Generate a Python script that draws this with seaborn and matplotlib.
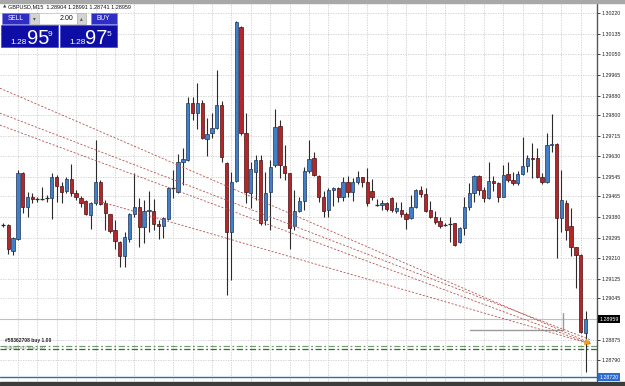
import seaborn as sns
import matplotlib.pyplot as plt
from matplotlib.patches import Rectangle
from matplotlib.transforms import blended_transform_factory

# GBPUSD M15 candles, oldest first
opens = [1.29347, 1.29347, 1.29241, 1.29288, 1.29560, 1.29422, 1.29463, 1.29455, 1.29457, 1.29456,
         1.29457, 1.29546, 1.29508, 1.29488, 1.29535, 1.29477, 1.29457, 1.29446, 1.29388, 1.29439,
         1.29525, 1.29436, 1.29392, 1.29326, 1.29278, 1.29219, 1.29288, 1.29392, 1.29422, 1.29337,
         1.29403, 1.29404, 1.29351, 1.29345, 1.29370, 1.29500, 1.29484, 1.29608, 1.29615, 1.29851,
         1.29810, 1.29851, 1.29700, 1.29725, 1.29748, 1.29841, 1.29601, 1.29319, 1.29529, 1.30164,
         1.29727, 1.29480, 1.29566, 1.29615, 1.29367, 1.29484, 1.29594, 1.29755, 1.29590, 1.29560,
         1.29343, 1.29404, 1.29446, 1.29569, 1.29622, 1.29549, 1.29463, 1.29409, 1.29491, 1.29498,
         1.29463, 1.29523, 1.29484, 1.29523, 1.29543, 1.29525, 1.29487, 1.29431, 1.29428, 1.29439,
         1.29457, 1.29406, 1.29411, 1.29392, 1.29374, 1.29420, 1.29491, 1.29473, 1.29411, 1.29381,
         1.29363, 1.29350, 1.29352, 1.29354, 1.29278, 1.29333, 1.29420, 1.29477, 1.29549, 1.29491,
         1.29457, 1.29528, 1.29519, 1.29463, 1.29557, 1.29532, 1.29521, 1.29557, 1.29590, 1.29622,
         1.29622, 1.29543, 1.29525, 1.29677, 1.29681, 1.29374, 1.29439, 1.29343, 1.29255, 1.29223,
         1.28904]
highs = [1.29355, 1.29350, 1.29299, 1.29573, 1.29565, 1.29484, 1.29480, 1.29463, 1.29505, 1.29470,
         1.29560, 1.29553, 1.29525, 1.29546, 1.29597, 1.29491, 1.29466, 1.29450, 1.29443, 1.29697,
         1.29532, 1.29450, 1.29394, 1.29367, 1.29280, 1.29319, 1.29395, 1.29560, 1.29457, 1.29450,
         1.29487, 1.29453, 1.29367, 1.29381, 1.29505, 1.29573, 1.29639, 1.29663, 1.29873, 1.29873,
         1.29931, 1.29862, 1.29787, 1.29810, 1.29986, 1.29858, 1.29608, 1.29566, 1.30189, 1.30167,
         1.29807, 1.29608, 1.29635, 1.29635, 1.29566, 1.29615, 1.29824, 1.29780, 1.29677, 1.29562,
         1.29491, 1.29463, 1.29587, 1.29697, 1.29646, 1.29553, 1.29488, 1.29498, 1.29502, 1.29505,
         1.29546, 1.29549, 1.29539, 1.29569, 1.29546, 1.29580, 1.29535, 1.29453, 1.29450, 1.29443,
         1.29463, 1.29443, 1.29443, 1.29402, 1.29470, 1.29494, 1.29508, 1.29498, 1.29447, 1.29406,
         1.29381, 1.29356, 1.29381, 1.29356, 1.29340, 1.29463, 1.29519, 1.29553, 1.29553, 1.29502,
         1.29608, 1.29549, 1.29525, 1.29594, 1.29608, 1.29566, 1.29571, 1.29708, 1.29635, 1.29684,
         1.29663, 1.29562, 1.29725, 1.29804, 1.29684, 1.29573, 1.29450, 1.29416, 1.29257, 1.29227,
         1.28991]
lows = [1.29339, 1.29227, 1.29223, 1.29285, 1.29395, 1.29379, 1.29439, 1.29443, 1.29452, 1.29443,
        1.29370, 1.29443, 1.29439, 1.29480, 1.29466, 1.29450, 1.29422, 1.29388, 1.29329, 1.29429,
        1.29429, 1.29326, 1.29313, 1.29247, 1.29175, 1.29175, 1.29278, 1.29379, 1.29257, 1.29274,
        1.29319, 1.29326, 1.29288, 1.29292, 1.29367, 1.29457, 1.29480, 1.29512, 1.29612, 1.29780,
        1.29741, 1.29700, 1.29631, 1.29704, 1.29741, 1.29608, 1.29058, 1.29120, 1.29525, 1.29718,
        1.29436, 1.29416, 1.29450, 1.29347, 1.29347, 1.29326, 1.29587, 1.29539, 1.29532, 1.29247,
        1.29326, 1.29402, 1.29409, 1.29562, 1.29549, 1.29443, 1.29379, 1.29379, 1.29425, 1.29443,
        1.29447, 1.29461, 1.29447, 1.29516, 1.29505, 1.29425, 1.29450, 1.29425, 1.29411, 1.29404,
        1.29402, 1.29395, 1.29379, 1.29329, 1.29370, 1.29416, 1.29463, 1.29402, 1.29374, 1.29351,
        1.29333, 1.29343, 1.29278, 1.29260, 1.29271, 1.29306, 1.29409, 1.29443, 1.29470, 1.29443,
        1.29453, 1.29488, 1.29443, 1.29461, 1.29525, 1.29512, 1.29512, 1.29553, 1.29566, 1.29539,
        1.29539, 1.29516, 1.29521, 1.29649, 1.29210, 1.29319, 1.29285, 1.29219, 1.29086, 1.28900,
        1.28741]
closes = [1.29346, 1.29247, 1.29292, 1.29562, 1.29422, 1.29463, 1.29453, 1.29454, 1.29456, 1.29457,
          1.29546, 1.29508, 1.29484, 1.29535, 1.29477, 1.29461, 1.29439, 1.29392, 1.29439, 1.29525,
          1.29433, 1.29395, 1.29323, 1.29282, 1.29219, 1.29296, 1.29392, 1.29422, 1.29337, 1.29406,
          1.29411, 1.29351, 1.29343, 1.29374, 1.29500, 1.29498, 1.29608, 1.29618, 1.29848, 1.29810,
          1.29851, 1.29704, 1.29722, 1.29745, 1.29841, 1.29628, 1.29319, 1.29525, 1.30185, 1.29727,
          1.29484, 1.29576, 1.29615, 1.29356, 1.29480, 1.29585, 1.29749, 1.29594, 1.29562, 1.29336,
          1.29406, 1.29446, 1.29569, 1.29619, 1.29553, 1.29463, 1.29406, 1.29491, 1.29498, 1.29461,
          1.29523, 1.29484, 1.29525, 1.29543, 1.29525, 1.29436, 1.29463, 1.29430, 1.29436, 1.29413,
          1.29409, 1.29416, 1.29391, 1.29370, 1.29420, 1.29491, 1.29473, 1.29406, 1.29381, 1.29360,
          1.29343, 1.29349, 1.29353, 1.29264, 1.29333, 1.29420, 1.29477, 1.29549, 1.29491, 1.29457,
          1.29528, 1.29519, 1.29463, 1.29553, 1.29532, 1.29521, 1.29557, 1.29590, 1.29622, 1.29618,
          1.29543, 1.29525, 1.29677, 1.29680, 1.29374, 1.29450, 1.29326, 1.29255, 1.29223, 1.28905,
          1.28959]

# price scale labels on the right
price_ticks = [1.30220, 1.30135, 1.30050, 1.29965, 1.29880, 1.29800, 1.29715, 1.29630, 1.29545,
               1.29465, 1.29380, 1.29295, 1.29210, 1.29125, 1.29045, 1.28875, 1.28790]
bid = 1.28959
blue_level = 1.28720

# trend lines (bar index, price)
trend_start_x = [-0.7, -0.7, -0.7, 18.9]
trend_start_y = [1.29911, 1.29808, 1.29759, 1.29450]
trend_end_x = [121.0, 121.0, 121.0, 121.0]
trend_end_y = [1.28860, 1.28874, 1.28857, 1.28857]

# open order lines
orders = [1.28850, 1.28838]
order_labels = ["#58362708 buy 1.00", "#58361937 buy 1.00"]

# grey marker line
grey_x = [96.2, 115.3, 115.3]
grey_y = [1.28914, 1.28914, 1.28984]

sns.set_theme(style="white")
plt.rcParams['font.family'] = ['Liberation Sans', 'DejaVu Sans']

W, H = 625, 386
fig = plt.figure(figsize=(W / 100, H / 100), dpi=100)
ax = fig.add_axes([0, 3 / H, 597 / W, 380 / H])
ax.set_xlim(-0.68, 122.33)
ax.set_ylim(1.28696, 1.30262)

# grid
for t in price_ticks:
    ax.axhline(t, color='#cccccc', lw=0.6, ls=(0, (1.5, 1.5)), zorder=0)
for gx in range(3, 121, 4):
    ax.axvline(gx, color='#cccccc', lw=0.6, ls=(0, (1.5, 1.5)), zorder=0)

idx = list(range(len(opens)))
ax.vlines(idx, lows, highs, color='#2b2b2b', lw=0.8, zorder=2)
for i in idx:
    o, c = opens[i], closes[i]
    up = c >= o
    h = abs(c - o)
    if h < 0.00002:
        ax.hlines(c, i - 0.38, i + 0.38, color='#2b2b2b', lw=0.9, zorder=3)
        continue
    ax.bar(i, h, bottom=min(o, c), width=0.68,
           color='#3f7fcc' if up else '#b3262a',
           edgecolor='#1d3557' if up else '#4a1010', lw=0.5, zorder=3)

for x0, y0, x1, y1 in zip(trend_start_x, trend_start_y, trend_end_x, trend_end_y):
    sns.lineplot(x=[x0, x1], y=[y0, y1], ax=ax, color='#b5534f', lw=0.6,
                 linestyle=(0, (2.5, 2)), estimator=None, zorder=4)

ax.axhline(bid, color='#c0c0c0', lw=0.8, zorder=1)
ax.axhline(blue_level, color='#2b6cb0', lw=1.0, zorder=1)
ax.plot(grey_x, grey_y, color='#9a9a9a', lw=1.0, zorder=2)
ax.axhline(orders[0], color='#6f9d6f', lw=0.9, ls=(0, (5, 2, 1.5, 2)), zorder=1)
ax.axhline(orders[1], color='#2f6f2f', lw=0.9, ls=(0, (5, 2, 1.5, 2)), zorder=1)
ax.text(0.4, orders[0] + 0.00020, order_labels[0], fontsize=3.6, fontweight='bold',
        color='#222222', va='center')
ax.text(0.4, orders[1] + 0.00004, order_labels[1], fontsize=3.2, color='#6a8a6a', va='center')
ax.plot([120], [1.28866], marker='*', color='#e8a020', ms=4, zorder=5)

# right price scale
ax.yaxis.tick_right()
ax.set_yticks(price_ticks)
ax.set_yticklabels([f"{t:.5f}" for t in price_ticks])
ax.tick_params(axis='y', labelsize=3.8, length=2.5, width=0.6, pad=1.0,
               colors='#222222', right=True)
ax.set_xticks([])
for s in ['top', 'left', 'bottom']:
    ax.spines[s].set_visible(False)
ax.spines['right'].set_color('#555555')
ax.spines['right'].set_linewidth(1.0)

tr = blended_transform_factory(ax.transAxes, ax.transData)
ax.text(1.004, bid, f"{bid:.5f}", transform=tr, fontsize=3.8, color='white', va='center',
        ha='left', bbox=dict(facecolor='black', edgecolor='none', pad=1.2), clip_on=False)
ax.text(1.004, blue_level, f"{blue_level:.5f}", transform=tr, fontsize=3.8, color='white',
        va='center', ha='left', bbox=dict(facecolor='#2b6cd0', edgecolor='none', pad=1.2),
        clip_on=False)

# overlay in pixel units for the window frame and one-click panel
ov = fig.add_axes([0, 0, 1, 1], zorder=10)
ov.set_xlim(0, W)
ov.set_ylim(H, 0)
ov.axis('off')
ov.patch.set_alpha(0)
ov.add_patch(Rectangle((0, 0), W, 2.5, color='#a8a8a8'))
ov.add_patch(Rectangle((0, 382), W, 4, color='#3c3c3c'))

ov.text(2.5, 6.5, "▲", fontsize=3.2, color='#444444', va='center', family='DejaVu Sans')
ov.text(8, 6.5, "GBPUSD,M15  1.28904 1.28991 1.28741 1.28959", fontsize=4.0,
        color='#111111', va='center')

ov.add_patch(Rectangle((1.7, 12.7), 27.6, 11.3, facecolor='#2e2ec4', edgecolor='#8080e0', lw=0.5))
ov.text(15.5, 18.6, "SELL", fontsize=4.8, color='white', ha='center', va='center')
ov.add_patch(Rectangle((30, 12.7), 9.3, 11.3, facecolor='#d4d4d4', edgecolor='#b0b0b0', lw=0.5))
ov.text(34.6, 18.6, "▾", fontsize=4, color='#555555', ha='center', va='center', family='DejaVu Sans')
ov.add_patch(Rectangle((39.3, 12.7), 37.4, 11.3, facecolor='white', edgecolor='#c0c0c0', lw=0.5))
ov.text(73.5, 18.6, "2.00", fontsize=5, color='#111111', ha='right', va='center')
ov.add_patch(Rectangle((76.7, 12.7), 9.3, 11.3, facecolor='#d4d4d4', edgecolor='#b0b0b0', lw=0.5))
ov.text(81.3, 18.6, "▴", fontsize=4, color='#555555', ha='center', va='center', family='DejaVu Sans')
ov.add_patch(Rectangle((90.7, 12.7), 26, 11.3, facecolor='#2e2ec4', edgecolor='#8080e0', lw=0.5))
ov.text(103.7, 18.6, "BUY", fontsize=4.8, color='white', ha='center', va='center')

for bx, big, small in [(1.0, "95", "9"), (60.0, "97", "5")]:
    ov.add_patch(Rectangle((bx, 25), 57.3, 22, facecolor='#0e0ea6', edgecolor='#5050c8', lw=0.6))
    ov.text(bx + 9, 44, "1.28", fontsize=6, color='white', va='baseline')
    ov.text(bx + 25.5, 44.5, big, fontsize=14.5, color='white', va='baseline')
    ov.text(bx + 47, 35.5, small, fontsize=6, color='white', va='baseline')

fig.savefig("out.png", dpi=100)
